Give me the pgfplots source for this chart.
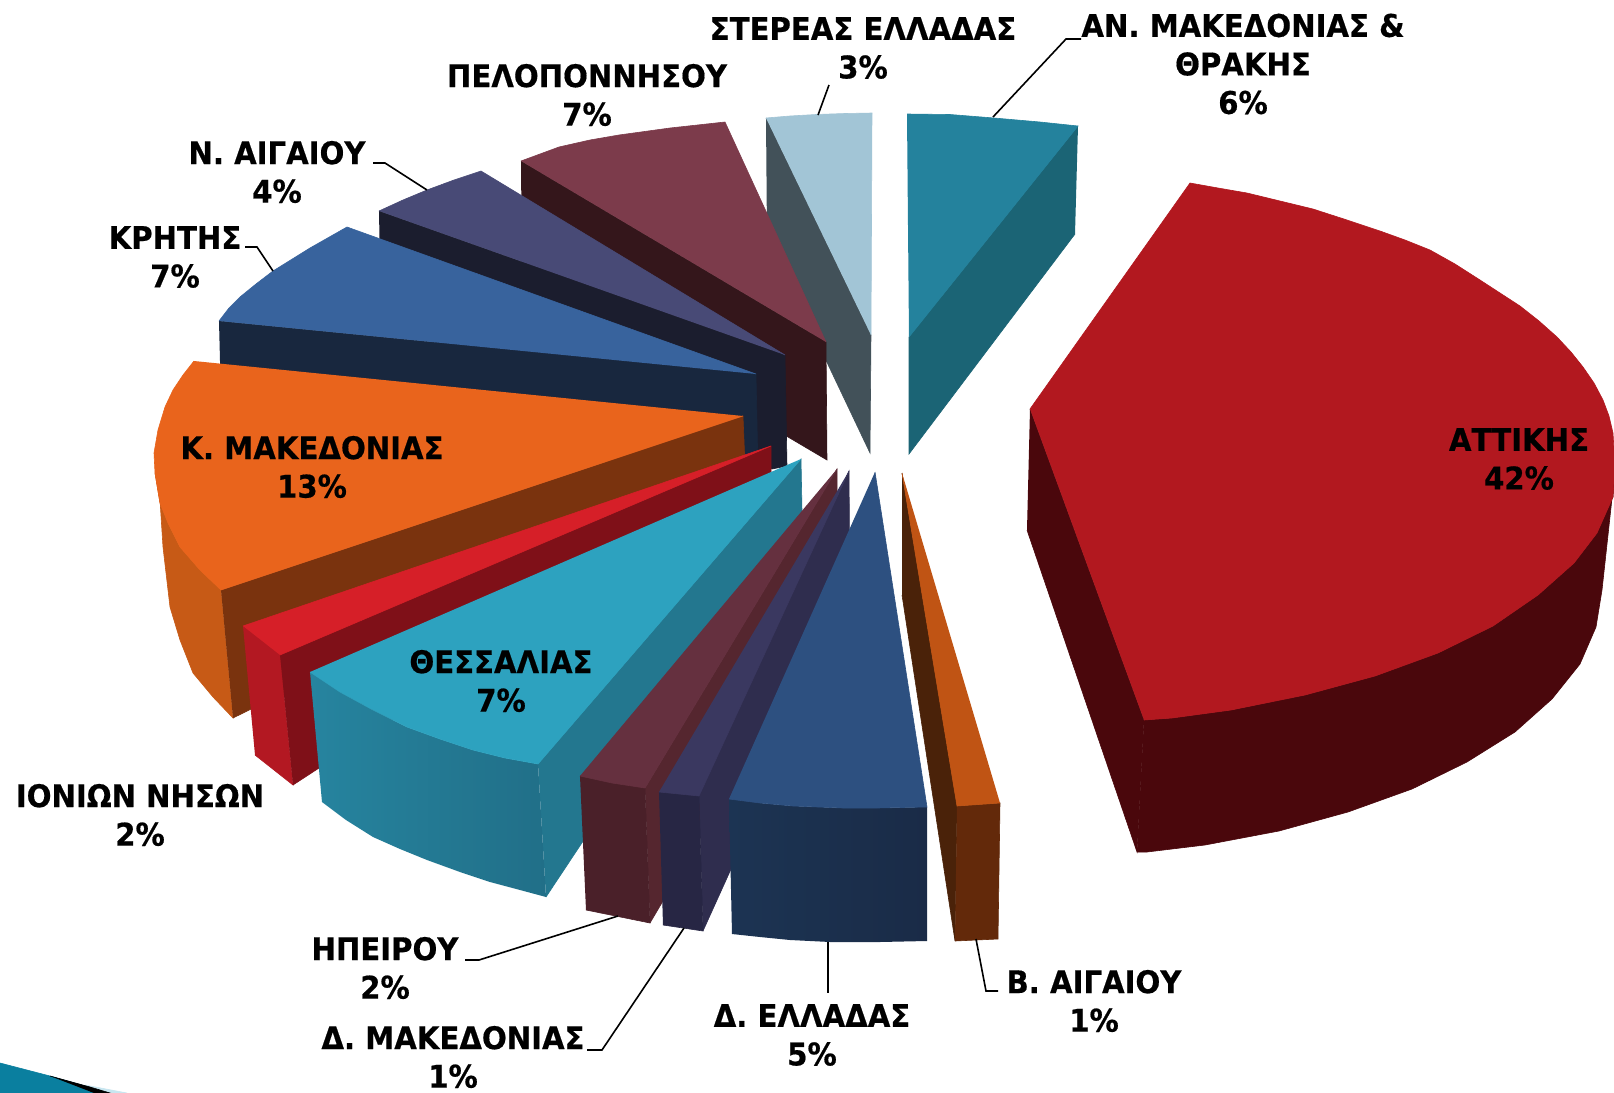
\documentclass[border=0pt]{standalone}
\usepackage{pgfplots}
\pgfplotsset{compat=1.18}
\usepackage{fontspec}
\setmainfont[BoldFeatures={FakeStretch=0.935,FakeBold=0.5}]{DejaVu Sans}
\definecolor{attT}{HTML}{B2181F}\definecolor{attW}{HTML}{4A070C}
\definecolor{anT}{HTML}{24829D}\definecolor{anW}{HTML}{1B6475}
\definecolor{steT}{HTML}{A2C5D6}\definecolor{steW}{HTML}{425159}
\definecolor{pelT}{HTML}{7C3B4B}\definecolor{pelW}{HTML}{34161B}
\definecolor{naiT}{HTML}{484A76}\definecolor{naiW}{HTML}{1B1D2E}
\definecolor{kriT}{HTML}{38639D}\definecolor{kriW}{HTML}{18273E}
\definecolor{kmaT}{HTML}{E9641C}\definecolor{kmaW}{HTML}{7A330E}\definecolor{kmaO}{HTML}{C75A16}
\definecolor{ionT}{HTML}{D61F28}\definecolor{ionW}{HTML}{7F1018}\definecolor{ionO}{HTML}{B31822}
\definecolor{theT}{HTML}{2DA2BF}\definecolor{theW}{HTML}{23778F}\definecolor{theL}{HTML}{26849F}\definecolor{theR}{HTML}{216F88}
\definecolor{ipeT}{HTML}{65303F}\definecolor{ipeW}{HTML}{55262F}\definecolor{ipeO}{HTML}{4A2029}
\definecolor{dmaT}{HTML}{3A3860}\definecolor{dmaW}{HTML}{2F2D4E}\definecolor{dmaO}{HTML}{272644}
\definecolor{delT}{HTML}{2D5080}\definecolor{delL}{HTML}{1C3453}\definecolor{delR}{HTML}{1A2B47}
\definecolor{baiT}{HTML}{C05414}\definecolor{baiW}{HTML}{4A2209}\definecolor{baiO}{HTML}{63290A}
\definecolor{swoosh}{HTML}{0A7F9F}\definecolor{swooshL}{HTML}{C8E6F0}
\pgfplotsset{
  face/.style={fill=#1,draw=#1,line width=0.3pt,mark=none},
  lead/.style={draw=black,line width=0.8pt,mark=none,fill=none},
}
\tikzset{lab/.style={font=\fontsize{15.6}{19.25}\selectfont\bfseries,align=center,text=black,inner sep=0pt}}
\begin{document}
\begin{tikzpicture}
\begin{axis}[
  at={(0,0)},anchor=south west,
  scale only axis,width=807pt,height=546.5pt,
  xmin=0,xmax=1614,ymin=0,ymax=1093,y dir=reverse,
  hide axis,clip=true,
]
% page
\addplot[fill=white,draw=none] coordinates {(0,0)(1614,0)(1614,1093)(0,1093)};
% swoosh in the corner
\addplot[face=swoosh] coordinates {(0,1063)(50,1076)(92,1088)(100,1093)(0,1093)};
\addplot[face=swooshL] coordinates {(85,1085)(127,1093)(105,1093)};
\addplot[face=black] coordinates {(50,1076)(90,1087)(110,1093)(94,1093)};
% Attiki
\addplot[face=attW] coordinates {(1030,409)(1144,720)(1137,852)(1027,530)};
\addplot[face=attW] coordinates {(1144,720)(1172,718)(1231,710)(1305,695)(1375,676)(1438,653)(1493,626)(1538,595)(1574,563)(1597,533)(1613,497)(1614,480)(1602,590)(1596,627)(1580,664)(1552,699)(1515,732)(1467,762)(1412,789)(1348,812)(1279,831)(1205,845)(1147,852)(1137,852)};
\addplot[face=attT] coordinates {(1030,409)(1190,183)(1218,188)(1247,193)(1280,201)(1313,209)(1347,220)(1380,231)(1405,240)(1430,250)(1455,264)(1480,280)(1500,293)(1520,306)(1539,321)(1557,337)(1571,352)(1583,367)(1594,383)(1603,400)(1609,416)(1613,433)(1614,450)(1614,480)(1613,497)(1597,533)(1574,563)(1538,595)(1493,626)(1438,653)(1375,676)(1305,695)(1231,710)(1172,718)(1144,720)};
% An. Makedonias
\addplot[face=anW] coordinates {(1078,126)(909,337)(909,454)(1075,234)};
\addplot[face=anT] coordinates {(907,114)(950,114.5)(994,118)(1040,122)(1078,126)(909,337)};
% Stereas
\addplot[face=steW] coordinates {(766,118)(871,335)(870,453)(767,236)};
\addplot[face=steT] coordinates {(766,118)(790,116)(816,114.5)(845,113.5)(872,113)(871,335)};
% Peloponnisos
\addplot[face=pelW] coordinates {(521,161)(826,342)(827,460)(522,280)};
\addplot[face=pelT] coordinates {(521,161)(559,147)(590,140)(619,135)(670,128)(725,122)(826,342)};
% N. Aigaiou
\addplot[face=naiW] coordinates {(379,211)(785,355)(787,466)(772,469)(381,322)};
\addplot[face=naiT] coordinates {(379,211)(403,200)(427,190)(454,180)(481,171)(785,355)};
% Kritis
\addplot[face=kriW] coordinates {(219,321)(756,374)(758,470)(222,440)};
\addplot[face=kriT] coordinates {(219,321)(229,308)(240,297)(256,284)(273,271)(310,248)(347,227)(756,374)};
% K. Makedonias
\addplot[face=kmaO] coordinates {(155,473)(160,503)(168,523)(180,547)(200,570)(221,590)(233,718)(213,697)(193,673)(180,640)(170,607)(163,547)(160,500)};
\addplot[face=kmaW] coordinates {(221,590)(743,416)(745,465)(233,718)};
\addplot[face=kmaT] coordinates {(194,361)(183,375)(173,390)(165,407)(158,430)(154,453)(155,473)(160,503)(168,523)(180,547)(200,570)(221,590)(743,416)};
% Ionion
\addplot[face=ionO] coordinates {(243,626)(280,655)(293,785)(255,755)};
\addplot[face=ionW] coordinates {(280,655)(771,446)(771,473)(293,785)};
\addplot[face=ionT] coordinates {(243,626)(771,446)(280,655)};
% Thessalia
\addplot[face=theW] coordinates {(538,764)(801,459)(802,511)(546,897)};
\addplot[draw=none,left color=theL,right color=theR] coordinates {(310,672)(325,682)(340,692)(373,710)(407,727)(440,739)(473,750)(505,758)(538,764)(546,897)(520,890)(490,882)(460,872)(427,860)(400,849)(373,837)(346,820)(322,802)};
\addplot[face=theT] coordinates {(310,672)(325,682)(340,692)(373,710)(407,727)(440,739)(473,750)(505,758)(538,764)(801,459)};
% Ipeiros
\addplot[face=ipeW] coordinates {(645,788)(837,469)(838,604)(650,923)};
\addplot[face=ipeO] coordinates {(580,776)(645,788)(650,923)(586,910)};
\addplot[face=ipeT] coordinates {(580,776)(612,783)(645,788)(837,469)};
% D. Makedonias
\addplot[face=dmaW] coordinates {(699,796)(849,471)(850,606)(703,931)};
\addplot[face=dmaO] coordinates {(659,792)(699,796)(703,931)(663,925)};
\addplot[face=dmaT] coordinates {(659,792)(699,796)(849,471)};
% D. Ellada
\addplot[draw=none,left color=delL,right color=delR] coordinates {(729,799)(760,803)(793,806)(843,808)(877,808)(927,807)(927,941)(880,942)(830,942)(790,940)(760,937)(732,934)};
\addplot[face=delT] coordinates {(729,799)(760,803)(793,806)(843,808)(877,808)(927,807)(875,472)};
% V. Aigaiou
\addplot[face=baiW] coordinates {(902,473)(957,806)(955,941)(902,595)};
\addplot[face=baiO] coordinates {(957,806)(1000,803)(998,939)(955,941)};
\addplot[face=baiT] coordinates {(902,473)(957,806)(1000,803)};
% leader lines
\addplot[lead] coordinates {(818,115)(829,85)};
\addplot[lead] coordinates {(993,117)(1066,39)(1081,39)};
\addplot[lead] coordinates {(373,163)(385,163)(427,190)};
\addplot[lead] coordinates {(245,247)(257,247)(273,271)};
\addplot[lead] coordinates {(465,960)(479,960)(618,916)};
\addplot[lead] coordinates {(587,1050)(602,1050)(684,928)};
\addplot[lead] coordinates {(828,942)(828,993)};
\addplot[lead] coordinates {(976,939)(986,991)(998,991)};
% labels
\node[lab] at (axis cs:863,48) {ΣΤΕΡΕΑΣ ΕΛΛΑΔΑΣ\\3\%};
\node[lab] at (axis cs:1243,64) {ΑΝ. ΜΑΚΕΔΟΝΙΑΣ \&\\ΘΡΑΚΗΣ\\6\%};
\node[lab] at (axis cs:587,95) {ΠΕΛΟΠΟΝΝΗΣΟΥ\\7\%};
\node[lab] at (axis cs:277,172) {Ν. ΑΙΓΑΙΟΥ\\4\%};
\node[lab] at (axis cs:175,257) {ΚΡΗΤΗΣ\\7\%};
\node[lab] at (axis cs:312,467) {Κ. ΜΑΚΕΔΟΝΙΑΣ\\13\%};
\node[lab] at (axis cs:1519,459) {ΑΤΤΙΚΗΣ\\42\%};
\node[lab] at (axis cs:501,681) {ΘΕΣΣΑΛΙΑΣ\\7\%};
\node[lab] at (axis cs:140,815) {ΙΟΝΙΩΝ ΝΗΣΩΝ\\2\%};
\node[lab] at (axis cs:385,968) {ΗΠΕΙΡΟΥ\\2\%};
\node[lab] at (axis cs:453,1057) {Δ. ΜΑΚΕΔΟΝΙΑΣ\\1\%};
\node[lab] at (axis cs:812,1035) {Δ. ΕΛΛΑΔΑΣ\\5\%};
\node[lab] at (axis cs:1094,1001) {Β. ΑΙΓΑΙΟΥ\\1\%};
\end{axis}
\end{tikzpicture}
\end{document}
